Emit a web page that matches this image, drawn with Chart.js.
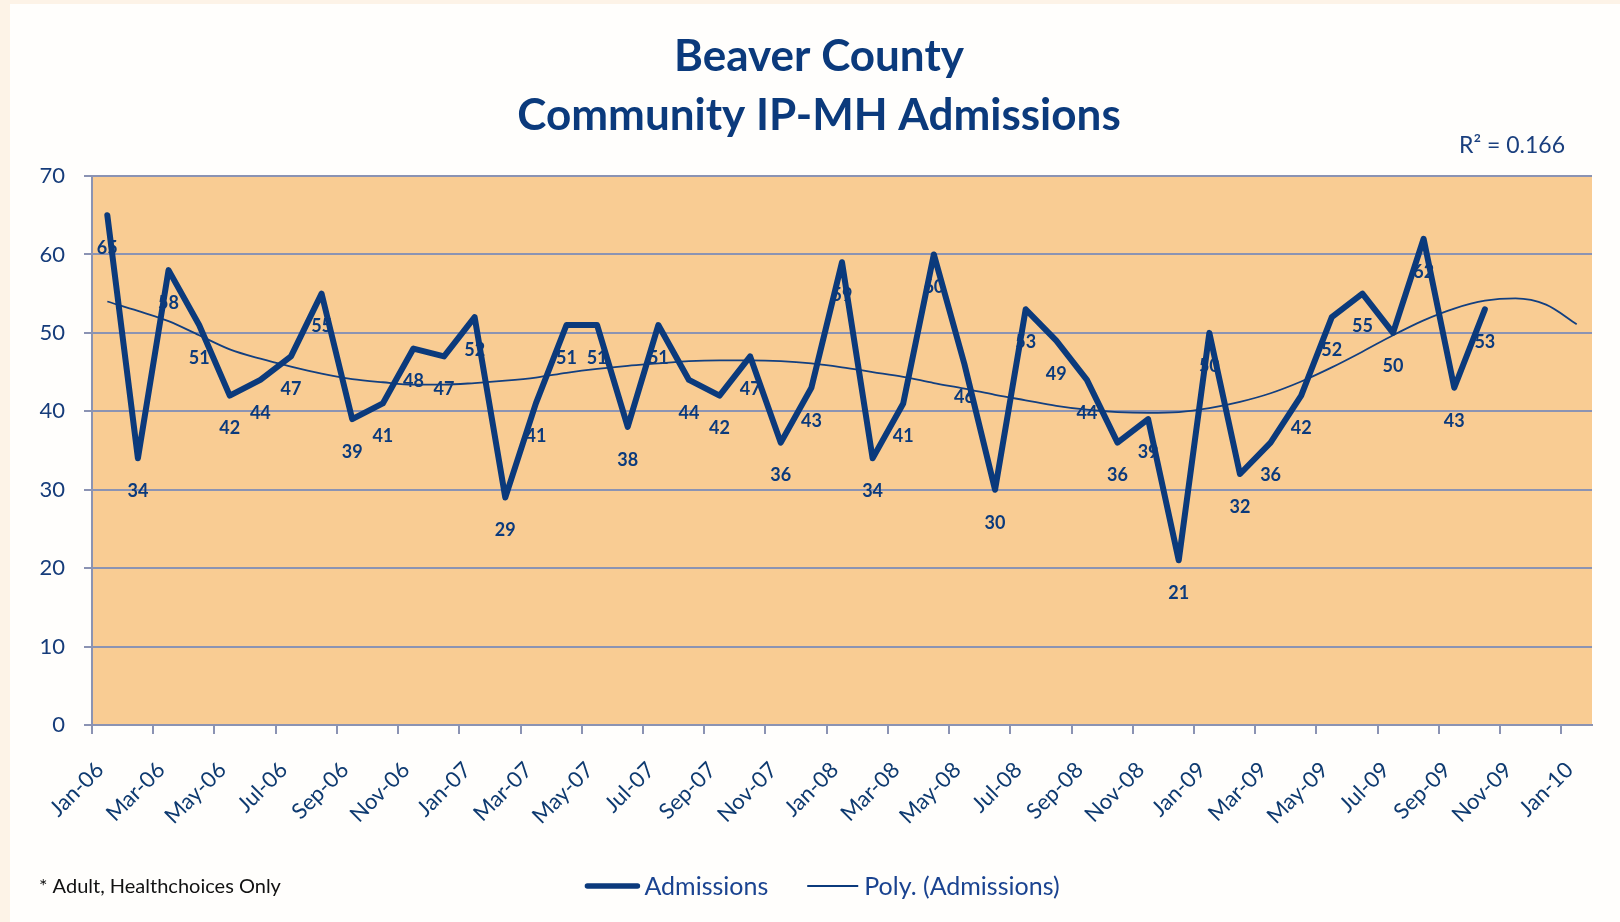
<!DOCTYPE html>
<html>
<head>
<meta charset="utf-8">
<title>Beaver County Community IP-MH Admissions</title>
<script src="https://cdn.jsdelivr.net/npm/chart.js@4.4.1/dist/chart.umd.min.js"></script>
<style>
  html, body { margin: 0; padding: 0; background: #fffefc; }
  #wrap { width: 1620px; height: 922px; }
</style>
</head>
<body>
<div id="wrap"><canvas id="admissionsChart" width="1620" height="922"></canvas></div>
<script>
const months = ["Jan-06", "Feb-06", "Mar-06", "Apr-06", "May-06", "Jun-06", "Jul-06", "Aug-06", "Sep-06", "Oct-06", "Nov-06", "Dec-06",
    "Jan-07", "Feb-07", "Mar-07", "Apr-07", "May-07", "Jun-07", "Jul-07", "Aug-07", "Sep-07", "Oct-07", "Nov-07", "Dec-07",
    "Jan-08", "Feb-08", "Mar-08", "Apr-08", "May-08", "Jun-08", "Jul-08", "Aug-08", "Sep-08", "Oct-08", "Nov-08", "Dec-08",
    "Jan-09", "Feb-09", "Mar-09", "Apr-09", "May-09", "Jun-09", "Jul-09", "Aug-09", "Sep-09", "Oct-09"];
const admissions = [65, 34, 58, 51, 42, 44, 47, 55, 39, 41, 48, 47,
    52, 29, 41, 51, 51, 38, 51, 44, 42, 47, 36, 43,
    59, 34, 41, 60, 46, 30, 53, 49, 44, 36, 39, 21,
    50, 32, 36, 42, 52, 55, 50, 62, 43, 53];
// polynomial trend, Jan-06 through Jan-10
const polyTrend = [54.0, 52.8, 51.5, 49.7, 47.9, 46.7, 45.7, 44.8, 44.1, 43.7, 43.4, 43.4,
    43.6, 43.9, 44.3, 44.9, 45.4, 45.8, 46.1, 46.4, 46.5, 46.5, 46.4, 46.1,
    45.6, 45.0, 44.4, 43.6, 42.9, 42.1, 41.4, 40.7, 40.2, 39.9, 39.8, 39.9,
    40.4, 41.2, 42.3, 43.8, 45.6, 47.6, 49.7, 51.6, 53.1, 54.1, 54.4, 53.6,
    51.1];
const tickLabels = ["Jan-06", "Mar-06", "May-06", "Jul-06", "Sep-06", "Nov-06",
    "Jan-07", "Mar-07", "May-07", "Jul-07", "Sep-07", "Nov-07",
    "Jan-08", "Mar-08", "May-08", "Jul-08", "Sep-08", "Nov-08",
    "Jan-09", "Mar-09", "May-09", "Jul-09", "Sep-09", "Nov-09", "Jan-10"];
const yTicks = [0, 10, 20, 30, 40, 50, 60, 70];
const titleLines = ["Beaver County", "Community IP-MH Admissions"];

const navy = "#0b3a7c";
const gridColor = "#8b93b3";
const fontName = "Lato";

const plotBackground = {
    id: "plotBackground",
    beforeDraw(chart) {
        const { ctx, chartArea: a } = chart;
        ctx.save();
        ctx.fillStyle = "#fffefc";
        ctx.fillRect(0, 0, chart.width, chart.height);
        ctx.fillStyle = "#fdf3e7";
        ctx.fillRect(0, 0, 10, chart.height);
        ctx.fillRect(0, 0, chart.width, 4);
        ctx.fillStyle = "#f9cc93";
        ctx.fillRect(a.left, a.top, a.right - a.left, a.bottom - a.top);
        ctx.restore();
    }
};

// value labels under each point, drawn before the lines so the line runs over them
const pointLabels = {
    id: "pointLabels",
    beforeDatasetsDraw(chart) {
        const ctx = chart.ctx;
        const meta = chart.getDatasetMeta(0);
        ctx.save();
        ctx.font = "bold 18px " + fontName;
        ctx.fillStyle = navy;
        ctx.textAlign = "center";
        ctx.textBaseline = "middle";
        meta.data.forEach((pt, i) => {
            ctx.fillText(String(admissions[i]), pt.x, pt.y + 33);
        });
        ctx.restore();
    }
};

const extras = {
    id: "extras",
    afterDraw(chart) {
        const ctx = chart.ctx;
        ctx.save();
        ctx.textBaseline = "middle";

        // title
        ctx.font = "bold 44px " + fontName;
        ctx.fillStyle = navy;
        ctx.textAlign = "center";
        titleLines.forEach((line, i) => ctx.fillText(line, 819, 57 + i * 59));

        ctx.font = "23px " + fontName;
        ctx.fillStyle = "#1a3f7e";
        ctx.textAlign = "right";
        ctx.fillText("R\u00B2 = 0.166", 1565, 146);

        ctx.font = "20px " + fontName;
        ctx.fillStyle = "#111111";
        ctx.textAlign = "left";
        ctx.fillText("* Adult, Healthchoices Only", 39, 887);

        // legend
        ctx.font = "25px " + fontName;
        const items = chart.data.datasets.map(ds => ({
            text: ds.label,
            lw: ds.borderWidth,
            sample: ds.borderWidth > 3 ? 56 : 51,
            gap: ds.borderWidth > 3 ? 4 : 6,
            w: ctx.measureText(ds.label).width
        }));
        const itemGap = 39;
        let total = 0;
        items.forEach((it, i) => { total += it.sample + it.gap + it.w + (i ? itemGap : 0); });
        let x = 822 - total / 2;
        const y = 886;
        items.forEach((it, i) => {
            if (i) x += itemGap;
            const round = it.lw > 3;
            ctx.strokeStyle = navy;
            ctx.lineWidth = round ? 5.5 : 1.8;
            ctx.lineCap = round ? "round" : "butt";
            ctx.beginPath();
            ctx.moveTo(x + (round ? 3 : 0), y);
            ctx.lineTo(x + it.sample - (round ? 3 : 0), y);
            ctx.stroke();
            x += it.sample + it.gap;
            ctx.fillStyle = "#1a4390";
            ctx.fillText(it.text, x, y + 1);
            x += it.w;
        });
        ctx.restore();
    }
};

const ctx = document.getElementById("admissionsChart").getContext("2d");

const admissionsChart = new Chart(ctx, {
    type: "line",
    data: {
        datasets: [{
            label: "Admissions",
            data: admissions.map((v, i) => ({ x: i, y: v })),
            borderColor: navy,
            borderWidth: 6,
            borderJoinStyle: "round",
            borderCapStyle: "round",
            pointRadius: 0,
            tension: 0
        }, {
            label: "Poly. (Admissions)",
            data: polyTrend.map((v, i) => ({ x: i, y: v })),
            borderColor: "#123f80",
            borderWidth: 1.8,
            pointRadius: 0,
            cubicInterpolationMode: "monotone"
        }]
    },
    options: {
        responsive: false,
        animation: false,
        events: [],
        layout: { padding: { left: 0, right: 28, top: 176, bottom: 0 } },
        plugins: {
            legend: { display: false },
            tooltip: { enabled: false },
            title: { display: false }
        },
        scales: {
            x: {
                type: "linear",
                min: -0.5,
                max: 48.5,
                afterBuildTicks: scale => {
                    scale.ticks = tickLabels.map((_, i) => ({ value: i * 2 - 0.5 }));
                },
                afterFit: scale => { scale.height = 197; },
                grid: { drawOnChartArea: false, drawTicks: true, tickLength: 9, color: gridColor, lineWidth: 2 },
                border: { color: gridColor, width: 2 },
                ticks: {
                    autoSkip: false,
                    maxRotation: 45,
                    minRotation: 45,
                    padding: 23,
                    labelOffset: 8,
                    color: "#0e3a70",
                    font: { family: fontName, size: 22 },
                    callback: (value, index) => tickLabels[index]
                }
            },
            y: {
                min: 0,
                max: 70,
                afterBuildTicks: scale => {
                    scale.ticks = yTicks.map(v => ({ value: v }));
                },
                afterFit: scale => { scale.width = 92; },
                grid: { color: gridColor, lineWidth: 2, tickLength: 8 },
                border: { color: gridColor, width: 2 },
                ticks: {
                    padding: 19,
                    color: "#163c7a",
                    font: { family: fontName, size: 22 }
                }
            }
        }
    },
    plugins: [plotBackground, pointLabels, extras]
});
</script>
</body>
</html>
